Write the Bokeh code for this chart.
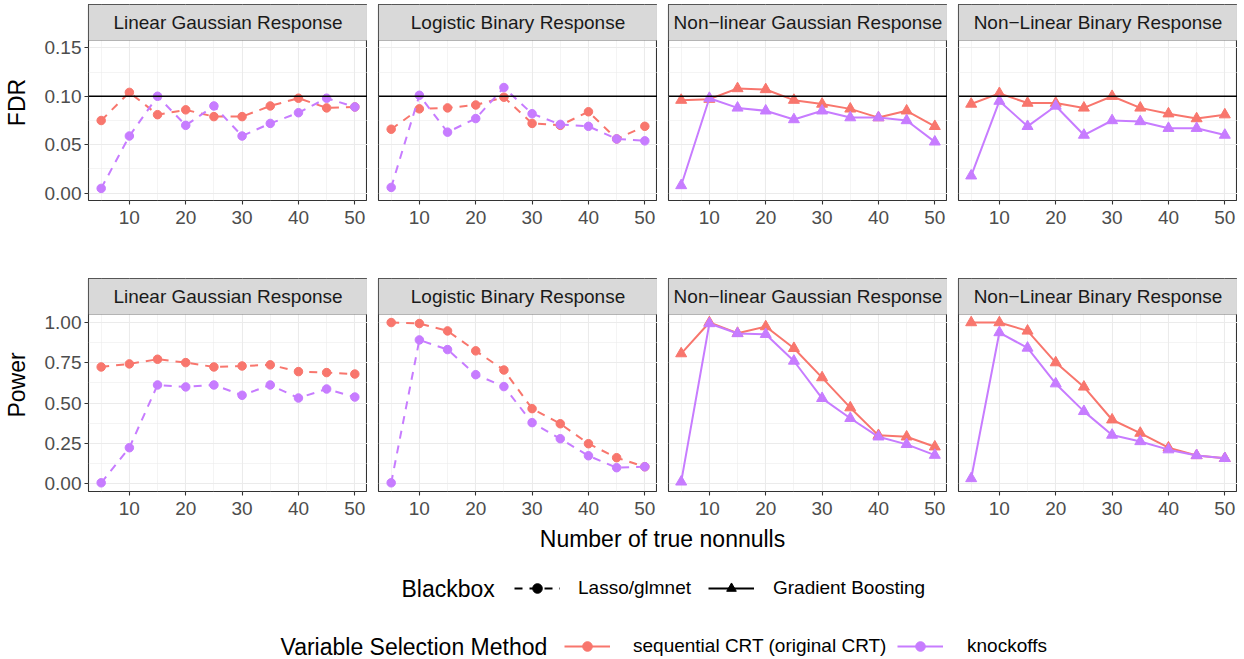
from bokeh.plotting import figure
from bokeh.layouts import column, row
from bokeh.models import (Range1d, FixedTicker, NumeralTickFormatter, Span, BoxAnnotation,
                          Label, Legend, LegendItem)
from bokeh.embed import file_html
from bokeh.resources import INLINE

# ---------------- data ----------------
n_true = [5, 10, 15, 20, 25, 30, 35, 40, 45, 50]
x_ticks = [10, 20, 30, 40, 50]
x_minor = [5, 15, 25, 35, 45]
panel_titles = ["Linear Gaussian Response", "Logistic Binary Response",
                "Non\u2212linear Gaussian Response", "Non\u2212Linear Binary Response"]
blackbox = ["Lasso/glmnet", "Lasso/glmnet", "Gradient Boosting", "Gradient Boosting"]
blackbox_levels = ["Lasso/glmnet", "Gradient Boosting"]
methods = ["sequential CRT (original CRT)", "knockoffs"]
row_titles = ["FDR", "Power"]
fdr_ticks = [0.00, 0.05, 0.10, 0.15]
fdr_minor = [0.025, 0.075, 0.125]
pow_ticks = [0.00, 0.25, 0.50, 0.75, 1.00]
pow_minor = [0.125, 0.375, 0.625, 0.875]

fdr_crt = [
    [0.075, 0.104, 0.081, 0.086, 0.079, 0.079, 0.090, 0.098, 0.088, 0.089],
    [0.066, 0.087, 0.088, 0.091, 0.099, 0.072, 0.070, 0.084, 0.056, 0.069],
    [0.096, 0.097, 0.108, 0.107, 0.096, 0.092, 0.087, 0.078, 0.085, 0.069],
    [0.092, 0.103, 0.093, 0.093, 0.088, 0.100, 0.088, 0.082, 0.077, 0.081],
]
fdr_ko = [
    [0.005, 0.059, 0.100, 0.070, 0.090, 0.059, 0.072, 0.083, 0.098, 0.089],
    [0.006, 0.101, 0.063, 0.077, 0.109, 0.082, 0.071, 0.069, 0.056, 0.054],
    [0.008, 0.098, 0.088, 0.085, 0.076, 0.085, 0.078, 0.078, 0.075, 0.053],
    [0.018, 0.095, 0.069, 0.090, 0.060, 0.075, 0.074, 0.067, 0.067, 0.060],
]
pow_crt = [
    [0.724, 0.743, 0.772, 0.751, 0.724, 0.730, 0.737, 0.695, 0.689, 0.680],
    [1.000, 0.994, 0.948, 0.824, 0.705, 0.465, 0.371, 0.247, 0.160, 0.104],
    [0.807, 1.000, 0.934, 0.975, 0.840, 0.658, 0.471, 0.299, 0.290, 0.228],
    [1.000, 1.000, 0.948, 0.751, 0.600, 0.396, 0.313, 0.222, 0.174, 0.156],
]
pow_ko = [
    [0.004, 0.222, 0.612, 0.600, 0.612, 0.548, 0.612, 0.531, 0.587, 0.537],
    [0.004, 0.892, 0.832, 0.676, 0.602, 0.378, 0.278, 0.172, 0.098, 0.104],
    [0.010, 0.994, 0.932, 0.927, 0.761, 0.529, 0.405, 0.290, 0.243, 0.176],
    [0.031, 0.938, 0.842, 0.620, 0.448, 0.301, 0.261, 0.210, 0.174, 0.156],
]
fdr_target = 0.10

# ---------------- style / layout ----------------
FONT = "Liberation Sans"
RED = "#F8766D"
PURPLE = "#C77CFF"
BORDER = "#333333"
GRID = "#EBEBEB"
STRIP_FILL = "#D9D9D9"
SMALL = "19px"
BIG = "23px"
STRIP_H = 36
col_left = [87, 11, 11, 11]
FRAME_W = 280
panel_h = [160, 177]
top_border = [4, 0]
bottom_border = [78, 33]
x_lim = (2.75, 52.25)
y_lims = [(-0.0075, 0.1575), (-0.05, 1.05)]
ticks = [(fdr_ticks, fdr_minor), (pow_ticks, pow_minor)]


def make_panel(ri, ci):
    y0, y1 = y_lims[ri]
    per_px = (y1 - y0) / panel_h[ri]
    y_top = y1 + STRIP_H * per_px
    fw = FRAME_W if ci == 0 else FRAME_W - 1
    p = figure(width=col_left[ci] + fw,
               height=top_border[ri] + STRIP_H + panel_h[ri] + bottom_border[ri],
               x_range=Range1d(*x_lim), y_range=Range1d(y0, y_top),
               toolbar_location=None, output_backend="svg",
               min_border_left=col_left[ci], min_border_right=0,
               min_border_top=top_border[ri], min_border_bottom=bottom_border[ri])
    p.outline_line_color = BORDER
    p.outline_line_width = 1.1
    xt = FixedTicker(ticks=x_ticks, minor_ticks=x_minor)
    yt = FixedTicker(ticks=ticks[ri][0], minor_ticks=ticks[ri][1])
    p.xaxis.ticker = xt
    p.yaxis.ticker = yt
    p.xgrid.ticker = xt
    p.ygrid.ticker = yt
    for g in (p.xgrid, p.ygrid):
        g.grid_line_color = GRID
        g.grid_line_width = 1.1
        g.minor_grid_line_color = GRID
        g.minor_grid_line_width = 0.55
    for ax in (p.xaxis, p.yaxis):
        ax.axis_line_color = None
        ax.major_tick_line_color = BORDER
        ax.major_tick_line_width = 1.1
        ax.major_tick_out = 4
        ax.major_tick_in = 0
        ax.minor_tick_line_color = None
        ax.major_label_text_font = FONT
        ax.major_label_text_font_size = SMALL
        ax.major_label_text_color = "#4D4D4D"
    p.xaxis.major_label_standoff = 6
    p.yaxis.major_label_standoff = 3
    p.yaxis.formatter = NumeralTickFormatter(format="0.00")
    if ci == 0:
        p.yaxis.axis_label = row_titles[ri]
        p.yaxis.axis_label_text_font = FONT
        p.yaxis.axis_label_text_font_size = BIG
        p.yaxis.axis_label_text_font_style = "normal"
        p.yaxis.axis_label_text_color = "black"
        p.yaxis.axis_label_standoff = 12
    else:
        p.yaxis.visible = False

    if ri == 0:
        p.add_layout(Span(location=fdr_target, dimension="width", line_color="black",
                          line_width=1.6))
        crt, ko = fdr_crt[ci], fdr_ko[ci]
    else:
        crt, ko = pow_crt[ci], pow_ko[ci]

    lasso = blackbox[ci] == blackbox_levels[0]
    dash = "8 7" if lasso else "solid"
    marker = "circle" if lasso else "triangle"
    msize = 8.5 if lasso else 11
    for vals, col in ((crt, RED), (ko, PURPLE)):
        p.line(n_true, vals, line_color=col, line_width=2, line_dash=dash)
        p.scatter(n_true, vals, marker=marker, size=msize, fill_color=col, line_color=col)

    # facet strip on top of the panel
    p.add_layout(BoxAnnotation(left=x_lim[0], right=x_lim[1], bottom=y1, top=y_top,
                               fill_color=STRIP_FILL, fill_alpha=1.0,
                               line_color=BORDER, line_width=1.1))
    p.add_layout(Label(x=(x_lim[0] + x_lim[1]) / 2, y=(y1 + y_top) / 2, text=panel_titles[ci],
                       text_align="center", text_baseline="middle", text_font=FONT,
                       text_font_size=SMALL, text_color="#1A1A1A"))
    return p


rows = [row(*[make_panel(ri, ci) for ci in range(4)], spacing=0) for ri in range(2)]

# ---------------- bottom: x title + legends ----------------
BW, BH = 1237, 135
b = figure(width=BW, height=BH, x_range=Range1d(0, BW), y_range=Range1d(0, BH),
           x_axis_type=None, y_axis_type=None, toolbar_location=None, output_backend="svg",
           min_border=0)
b.outline_line_color = None
b.add_layout(Label(x=662, y=121, text="Number of true nonnulls", text_align="center",
                   text_baseline="middle", text_font=FONT, text_font_size=BIG,
                   text_color="black"))
b.add_layout(Label(x=401, y=71, text="Blackbox", text_align="left", text_baseline="middle",
                   text_font=FONT, text_font_size=BIG, text_color="black"))
b.add_layout(Label(x=280, y=13, text="Variable Selection Method", text_align="left",
                   text_baseline="middle", text_font=FONT, text_font_size=BIG,
                   text_color="black"))

# legend key renderers: points placed outside the visible range
key_x, key_y = [-50, -40], [-50, -50]
r_l1 = b.line(key_x, key_y, line_color="black", line_width=2, line_dash="8 7")
r_s1 = b.scatter(key_x, key_y, marker="circle", fill_color="black", line_color="black")
r_l2 = b.line(key_x, key_y, line_color="black", line_width=2)
r_s2 = b.scatter(key_x, key_y, marker="triangle", fill_color="black", line_color="black")
r_l3 = b.line(key_x, key_y, line_color=RED, line_width=2)
r_s3 = b.scatter(key_x, key_y, marker="circle", fill_color=RED, line_color=RED)
r_l4 = b.line(key_x, key_y, line_color=PURPLE, line_width=2)
r_s4 = b.scatter(key_x, key_y, marker="circle", fill_color=PURPLE, line_color=PURPLE)

legend_specs = [
    (blackbox_levels[0], [r_l1, r_s1], 514, 59, 18),
    (blackbox_levels[1], [r_l2, r_s2], 708, 59, 19),
    (methods[0], [r_l3, r_s3], 564, 1, 23),
    (methods[1], [r_l4, r_s4], 897, 1, 24),
]
for lab, rends, lx, ly, stand in legend_specs:
    lg = Legend(items=[LegendItem(label=lab, renderers=rends)], location=(lx, ly),
                orientation="horizontal", padding=0, margin=0, spacing=0,
                glyph_width=46, glyph_height=24, label_height=24, label_standoff=stand,
                label_text_font=FONT, label_text_font_size=SMALL, label_text_color="black",
                border_line_color=None, background_fill_alpha=0)
    b.add_layout(lg, "center")

layout = column(rows[0], rows[1], b, spacing=0)
open("out.html", "w").write(file_html(layout, INLINE))
